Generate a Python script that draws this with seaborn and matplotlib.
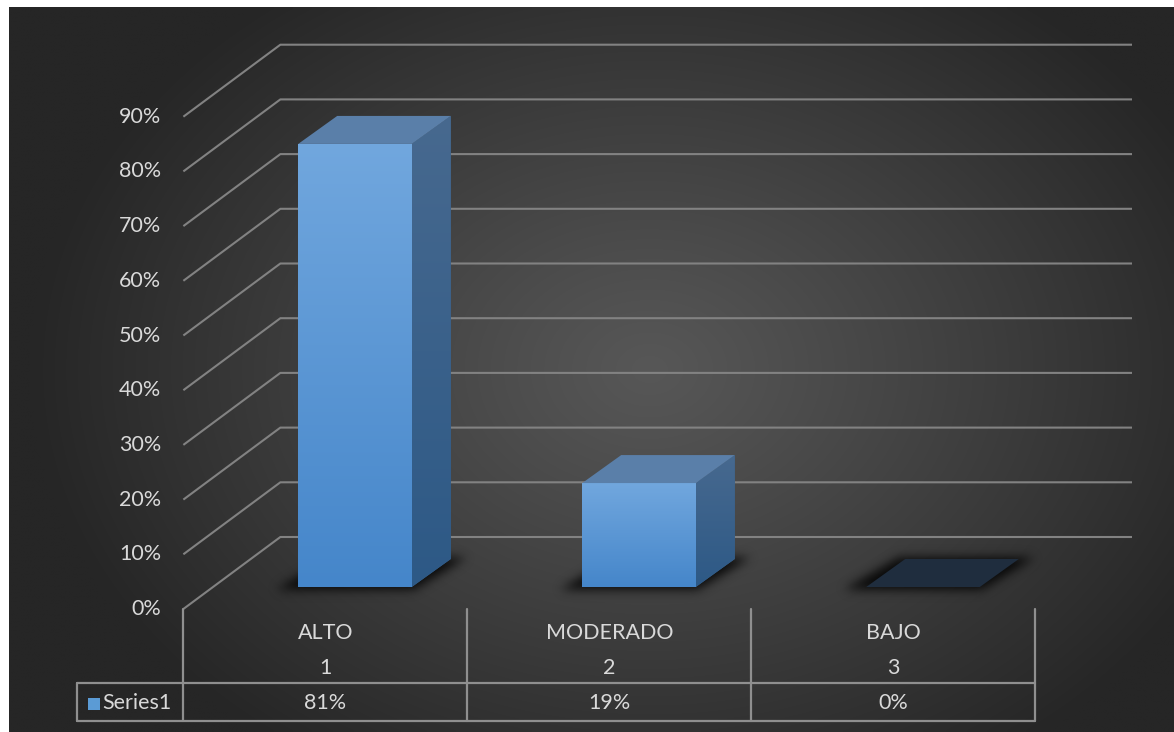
import numpy as np
import matplotlib
matplotlib.use("Agg")
import matplotlib.pyplot as plt
import seaborn as sns
import pandas as pd
from matplotlib.patches import Polygon, Rectangle
from matplotlib.path import Path
from matplotlib.colors import LinearSegmentedColormap

# ---------------- data ----------------
categories = ["ALTO", "MODERADO", "BAJO"]
category_numbers = ["1", "2", "3"]
values = [81, 19, 0]
value_labels = ["81%", "19%", "0%"]
y_ticks = [0, 10, 20, 30, 40, 50, 60, 70, 80, 90]
y_tick_labels = ["0%", "10%", "20%", "30%", "40%", "50%", "60%", "70%", "80%", "90%"]
series_name = "Series1"

# ---------------- style ----------------
sns.set_theme(style="white")
plt.rcParams['font.family'] = ['Lato', 'DejaVu Sans']

TEXT_C = "#d9d9d9"
GRID_C = "#828282"
TABLE_C = "#8f8f8f"
FS = 15.5

FIG_W, FIG_H = 1174, 732
PXX = 284.0     # pixels per category
PXY = 5.47      # pixels per percent unit
X0PX, Y0PX = 355.0, 587.0


def dxp(px):
    return px / PXX


def dyp(px):
    return px / PXY


def X(px):
    return (px - X0PX) / PXX


def Y(py):
    return (Y0PX - py) / PXY


def PX(x):
    return x * PXX + X0PX


def PY(y):
    return Y0PX - y * PXY


def gblur(a, sigma):
    rad = int(3 * sigma)
    t = np.arange(-rad, rad + 1)
    k = np.exp(-0.5 * (t / sigma) ** 2)
    k /= k.sum()
    a = np.apply_along_axis(lambda m: np.convolve(m, k, mode="same"), 0, a)
    a = np.apply_along_axis(lambda m: np.convolve(m, k, mode="same"), 1, a)
    return a


fig = plt.figure(figsize=(FIG_W / 100, FIG_H / 100), dpi=100, facecolor="white")
ax = fig.add_axes([0, 0, 1, 1])

df = pd.DataFrame({"category": categories, "value": values})
sns.barplot(data=df, x="category", y="value", ax=ax, width=0.40,
            color="#5b9bd5", linewidth=0, saturation=1, errorbar=None)

xlim = (X(0), X(FIG_W))
ylim = (Y(FIG_H), Y(0))

# ---------------- background gradient ----------------
bx0, by0 = 9, 8
gx = np.linspace(bx0, FIG_W, 300)
gy = np.linspace(by0, FIG_H, 200)
GX, GY = np.meshgrid(gx, gy)
r = np.sqrt(((GX - 650) / 620) ** 2 + ((GY - 370) / 470) ** 2)
dark, light = 0x26 / 255, 0x57 / 255
val = light - (light - dark) * np.clip(r, 0, 1) ** 1.1
bg = np.dstack([val, val, val])
ax.imshow(bg, extent=[X(bx0), X(FIG_W), Y(FIG_H), Y(by0)], origin="upper",
          aspect="auto", interpolation="bilinear", zorder=0)

# ---------------- 3D geometry ----------------
BAR_DX, BAR_DY = dxp(39), dyp(28)
FLOOR_DX, FLOOR_DY = dxp(97), dyp(72)
FRONT_Y = -dyp(22)
BACK_Y = FRONT_Y + FLOOR_DY
FRONT_SHIFT = (22 / 72) * FLOOR_DX
floor_left = -0.5 - FRONT_SHIFT
back_left = floor_left + FLOOR_DX
back_right = X(1132)

# gridlines: diagonal on the left wall + horizontal on the back wall
for v in y_ticks:
    ax.plot([floor_left, back_left, back_right], [v + FRONT_Y, v + BACK_Y, v + BACK_Y],
            color=GRID_C, lw=1.5, zorder=1, solid_capstyle="butt")

for v, lab in zip(y_ticks, y_tick_labels):
    ax.text(X(161), v + FRONT_Y, lab, ha="right", va="center", color=TEXT_C, fontsize=FS, zorder=5)

# ---------------- bars: shadows, faces ----------------
front_cmap = LinearSegmentedColormap.from_list("front", ["#4586ca", "#71a7de"])
side_cmap = LinearSegmentedColormap.from_list("side", ["#2d5986", "#47698f"])

bars = list(ax.patches)
for p in bars:
    x0 = p.get_x()
    x1 = x0 + p.get_width()
    h = p.get_height()
    # soft blurred shadow around the footprint (computed on a pixel grid)
    fx0, fx1 = PX(x0), PX(x1)
    fy = PY(0)
    shadow_poly = [(fx0 - 22, fy + 3), (fx1 + 2, fy + 3),
                   (fx1 + 39 + 16, fy - 28 - 1), (fx0 + 39 - 6, fy - 28 - 1)]
    pad = 30
    sx0, sx1 = fx0 - 22 - pad, fx1 + 55 + pad
    sy0, sy1 = fy - 29 - pad, fy + 3 + pad
    xs = np.arange(sx0, sx1)
    ys = np.arange(sy0, sy1)
    SX, SY = np.meshgrid(xs + 0.5, ys + 0.5)
    mask = Path(shadow_poly).contains_points(np.c_[SX.ravel(), SY.ravel()]).reshape(SX.shape)
    soft = gblur(mask.astype(float), 5.0)
    rgba = np.zeros(soft.shape + (4,))
    rgba[..., 3] = np.clip(soft * 0.85, 0, 1)
    ax.imshow(rgba, extent=[X(sx0), X(sx1), Y(sy1), Y(sy0)], origin="upper",
              aspect="auto", interpolation="bilinear", zorder=2)

    p.set_zorder(3)
    if h > 0:
        grad = np.linspace(0, 1, 256).reshape(-1, 1)
        im = ax.imshow(grad, extent=[x0, x1, 0, h], origin="lower", cmap=front_cmap,
                       aspect="auto", zorder=3.1)
        im.set_clip_path(p)
        side = Polygon([(x1, 0), (x1 + BAR_DX, BAR_DY), (x1 + BAR_DX, h + BAR_DY), (x1, h)],
                       closed=True, facecolor="#3a6189", edgecolor="none", zorder=3)
        ax.add_patch(side)
        im2 = ax.imshow(grad, extent=[x1, x1 + BAR_DX, 0, h + BAR_DY], origin="lower",
                        cmap=side_cmap, aspect="auto", zorder=3.1)
        im2.set_clip_path(side)
        top_color = "#5a7fa9"
    else:
        top_color = "#1f2d3e"
    ax.add_patch(Polygon([(x0, h), (x1, h), (x1 + BAR_DX, h + BAR_DY), (x0 + BAR_DX, h + BAR_DY)],
                         closed=True, facecolor=top_color, edgecolor="none", zorder=3.2))

# ---------------- data table ----------------
col_edges = [i - 0.5 - FRONT_SHIFT for i in range(len(categories) + 1)]
row_mid = Y(683)
row_bot = Y(721)
table_left = X(77)
lw_t = 1.6
for xe in col_edges:
    ax.plot([xe, xe], [FRONT_Y, row_bot], color=TABLE_C, lw=lw_t, zorder=4)
ax.plot([table_left, col_edges[-1]], [row_mid, row_mid], color=TABLE_C, lw=lw_t, zorder=4)
ax.plot([table_left, col_edges[-1]], [row_bot, row_bot], color=TABLE_C, lw=lw_t, zorder=4)
ax.plot([table_left, table_left], [row_mid, row_bot], color=TABLE_C, lw=lw_t, zorder=4)

for i, (cat, num, vl) in enumerate(zip(categories, category_numbers, value_labels)):
    cx = i - FRONT_SHIFT
    ax.text(cx, Y(633), cat, ha="center", va="center", color=TEXT_C, fontsize=FS, zorder=5)
    ax.text(cx, Y(668), num, ha="center", va="center", color=TEXT_C, fontsize=FS, zorder=5)
    ax.text(cx, Y(703), vl, ha="center", va="center", color=TEXT_C, fontsize=FS, zorder=5)

# legend key inside the table
ax.add_patch(Rectangle((X(88), Y(710)), dxp(12), dyp(12), facecolor="#5b9bd5",
                       edgecolor="none", zorder=5))
ax.text(X(102), Y(703), series_name, ha="left", va="center", color=TEXT_C, fontsize=FS, zorder=5)

ax.set_xlim(*xlim)
ax.set_ylim(*ylim)
ax.axis("off")

fig.savefig("out.png", dpi=100, facecolor="white")
